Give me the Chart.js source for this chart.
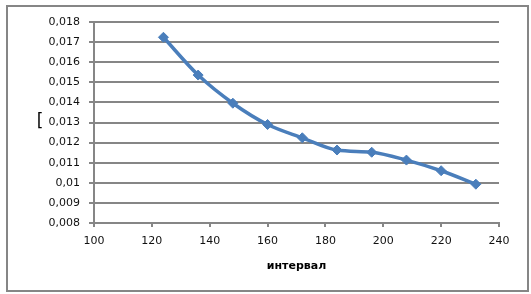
<!DOCTYPE html>
<html>
<head>
<meta charset="utf-8">
<script src="https://cdn.jsdelivr.net/npm/chart.js@4/dist/chart.umd.min.js"></script>
<style>
  html, body { margin: 0; padding: 0; background: #fff; overflow: hidden; }
  #chart { position: absolute; left: 0; top: 0; }
</style>
</head>
<body>
<canvas id="chart" width="531" height="294"></canvas>
<script>
const xValues = [124, 136, 148, 160, 172, 184, 196, 208, 220, 232]
const yValues = [0.01724, 0.01536, 0.01396, 0.01290, 0.01224, 0.01163, 0.01152, 0.01113, 0.01060, 0.00993]
const yTickLabels = ['0,008', '0,009', '0,01', '0,011', '0,012', '0,013', '0,014', '0,015', '0,016', '0,017', '0,018']
const xTickLabels = ['100', '120', '140', '160', '180', '200', '220', '240']
const xTitle = 'интервал'
const yTitle = '['

const gridGray = '#868686'
const textColor = '#111'
const lineBlue = '#4a7ebb'

// outer frame and the stray y title mark
const framePlugin = {
    id: 'frame',
    beforeDraw(chart) {
        const c = chart.ctx
        c.save()
        c.strokeStyle = gridGray
        c.lineWidth = 2
        c.strokeRect(7, 6, 521, 285)
        c.restore()
    },
    afterDraw(chart) {
        const c = chart.ctx
        const y = chart.scales.y.getPixelForValue(0.013)
        c.save()
        c.fillStyle = '#000'
        c.font = '17px "DejaVu Sans"'
        c.textAlign = 'center'
        c.textBaseline = 'middle'
        c.fillText(yTitle, 40, y - 1)
        c.restore()
    }
}

const ctx = document.getElementById('chart')

new Chart(ctx, {
    type: 'line',
    data: {
        datasets: [{
            data: xValues.map((x, i) => ({ x: x, y: yValues[i] })),
            borderColor: lineBlue,
            backgroundColor: lineBlue,
            borderWidth: 3.5,
            tension: 0.4,
            cubicInterpolationMode: 'monotone',
            pointStyle: 'rectRot',
            pointRadius: 5,
            pointBorderWidth: 1,
            pointBackgroundColor: lineBlue,
            pointBorderColor: lineBlue
        }]
    },
    plugins: [framePlugin],
    options: {
        responsive: false,
        animation: false,
        devicePixelRatio: 1,
        layout: { padding: { left: 0, top: 22, right: 32, bottom: 0 } },
        plugins: {
            legend: { display: false },
            tooltip: { enabled: false }
        },
        scales: {
            x: {
                type: 'linear',
                min: 100,
                max: 240,
                ticks: {
                    stepSize: 20,
                    padding: 8,
                    autoSkip: false,
                    maxRotation: 0,
                    minRotation: 0,
                    color: textColor,
                    font: { family: 'DejaVu Sans', size: 11 },
                    callback: (v, i) => xTickLabels[i]
                },
                grid: {
                    display: true,
                    drawOnChartArea: false,
                    drawTicks: true,
                    tickLength: 4,
                    color: gridGray,
                    lineWidth: 2
                },
                border: { display: true, color: gridGray, width: 2 },
                title: {
                    display: true,
                    text: xTitle,
                    color: '#000',
                    font: { family: 'DejaVu Sans', size: 11, weight: 'bold' },
                    padding: { top: 0, bottom: 21 }
                },
                afterFit(scale) { scale.height = 71 }
            },
            y: {
                min: 0.008,
                max: 0.018,
                ticks: {
                    stepSize: 0.001,
                    padding: 9,
                    autoSkip: false,
                    color: textColor,
                    font: { family: 'DejaVu Sans', size: 11 },
                    callback: (v, i) => yTickLabels[i]
                },
                grid: {
                    color: gridGray,
                    lineWidth: 2,
                    tickLength: 5
                },
                border: { display: true, color: gridGray, width: 2 },
                afterFit(scale) { scale.width = 94 }
            }
        }
    }
})
</script>
</body>
</html>
